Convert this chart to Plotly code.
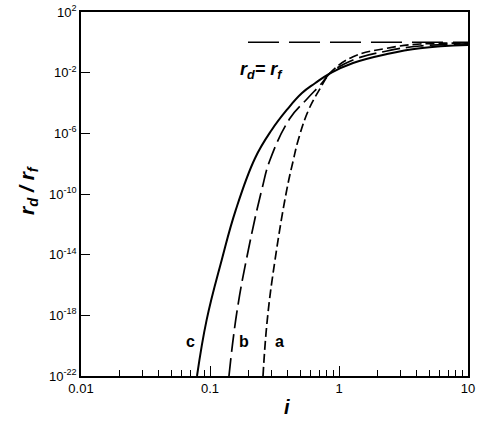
import plotly.graph_objects as go

# ---- data ----
i_c = [0.0793, 0.0942, 0.1233, 0.1585, 0.2234, 0.3006, 0.3936, 0.5140, 0.6516, 0.8511,
       1.285, 2.355, 4.246, 10.0]
r_c = [1e-22, 5.01e-19, 4.47e-15, 8.91e-12, 2.29e-8, 1.66e-6, 3.47e-5, 4.37e-4, 2.0e-3, 9.12e-3,
       4.37e-2, 0.170, 0.407, 0.661]

i_b = [0.1403, 0.1611, 0.1982, 0.2518, 0.2917, 0.4169, 0.5623, 0.7345, 0.8511,
       1.285, 2.355, 4.246, 10.0]
r_b = [1e-22, 1.38e-18, 2.04e-14, 1.86e-10, 1.74e-8, 9.77e-6, 1.78e-4, 2.0e-3, 9.12e-3,
       6.92e-2, 0.269, 0.575, 0.794]

i_a = [0.2576, 0.2780, 0.3192, 0.3936, 0.4426, 0.4831, 0.5808, 0.7161, 0.8511,
       1.285, 2.355, 4.246, 10.0]
r_a = [1e-22, 5.01e-19, 4.47e-15, 1.86e-10, 1.74e-8, 3.63e-7, 3.47e-5, 9.33e-4, 9.12e-3,
       0.112, 0.407, 0.776, 0.871]

ref_i = [0.197, 10.0]
ref_r = [1.0, 1.0]

x_tickvals = [0.01, 0.1, 1, 10]
x_ticktext = ["0.01", "0.1", "1", "10"]
x_minor = [m * d for d in (0.01, 0.1, 1) for m in range(2, 10)]
y_exps = [2, -2, -6, -10, -14, -18, -22]
y_tickvals = [10.0 ** e for e in y_exps]
y_ticktext = ["10<sup>%d</sup>" % e for e in y_exps]

FONT = "Liberation Sans, Arial, Helvetica, sans-serif"

fig = go.Figure()
fig.add_trace(go.Scatter(x=ref_i, y=ref_r, mode="lines",
                         line=dict(color="black", width=1.5, dash="31px,10px")))
fig.add_trace(go.Scatter(x=i_c, y=r_c, mode="lines", line_shape="spline",
                         line=dict(color="black", width=2, smoothing=1.2)))
fig.add_trace(go.Scatter(x=i_b, y=r_b, mode="lines", line_shape="spline",
                         line=dict(color="black", width=1.7, dash="18px,6px", smoothing=1.2)))
fig.add_trace(go.Scatter(x=i_a, y=r_a, mode="lines", line_shape="spline",
                         line=dict(color="black", width=1.7, dash="9px,4px", smoothing=1.2)))

L, R, T, B = 81, 468, 12, 376
def px(xp):
    return (xp - L) / (R - L)
def py(yp):
    return (B - yp) / (B - T)

ann = [
    dict(text="<b><i>r<sub>d</sub>= r<sub>f</sub></i></b>", x=px(261), y=py(70), size=18),
    dict(text="<b>c</b>", x=px(190), y=py(341), size=16),
    dict(text="<b>b</b>", x=px(244), y=py(341), size=16),
    dict(text="<b>a</b>", x=px(279), y=py(341), size=16),
    dict(text="<b><i>i</i></b>", x=px(287), y=py(407), size=20),
]
annotations = [dict(text=a["text"], x=a["x"], y=a["y"], xref="paper", yref="paper",
                    showarrow=False, xanchor="center", yanchor="middle",
                    font=dict(family=FONT, size=a["size"], color="black")) for a in ann]
annotations.append(dict(text="<b><i>r<sub>d</sub> / r<sub>f</sub></i></b>",
                        x=px(28), y=py(190), xref="paper", yref="paper", showarrow=False,
                        textangle=-90, xanchor="center", yanchor="middle",
                        font=dict(family=FONT, size=21, color="black")))

fig.update_layout(
    width=482, height=424,
    margin=dict(l=L, r=482 - R, t=T, b=424 - B, autoexpand=False),
    paper_bgcolor="white", plot_bgcolor="white",
    showlegend=False,
    font=dict(family=FONT, size=13, color="black"),
    annotations=annotations,
)
fig.update_xaxes(type="log", range=[-2, 1], showgrid=False, zeroline=False, automargin=False,
                 showline=True, linecolor="black", linewidth=1.5, mirror=True,
                 ticks="inside", ticklen=10, tickwidth=1.2, tickcolor="black",
                 tickmode="array", tickvals=x_tickvals, ticktext=x_ticktext,
                 tickfont=dict(family=FONT, size=13),
                 minor=dict(ticks="inside", ticklen=6, tickwidth=1.2, tickcolor="black",
                            tickmode="array", tickvals=x_minor, showgrid=False))
fig.update_yaxes(type="log", range=[-22, 2], showgrid=False, zeroline=False, automargin=False,
                 showline=True, linecolor="black", linewidth=1.5, mirror=True,
                 ticks="inside", ticklen=9, tickwidth=1.2, tickcolor="black",
                 tickmode="array", tickvals=y_tickvals, ticktext=y_ticktext,
                 tickfont=dict(family=FONT, size=13))

fig.write_html("out.html", config={"displayModeBar": False},
               post_script="document.body.style.margin='0';document.body.style.padding='0';")
